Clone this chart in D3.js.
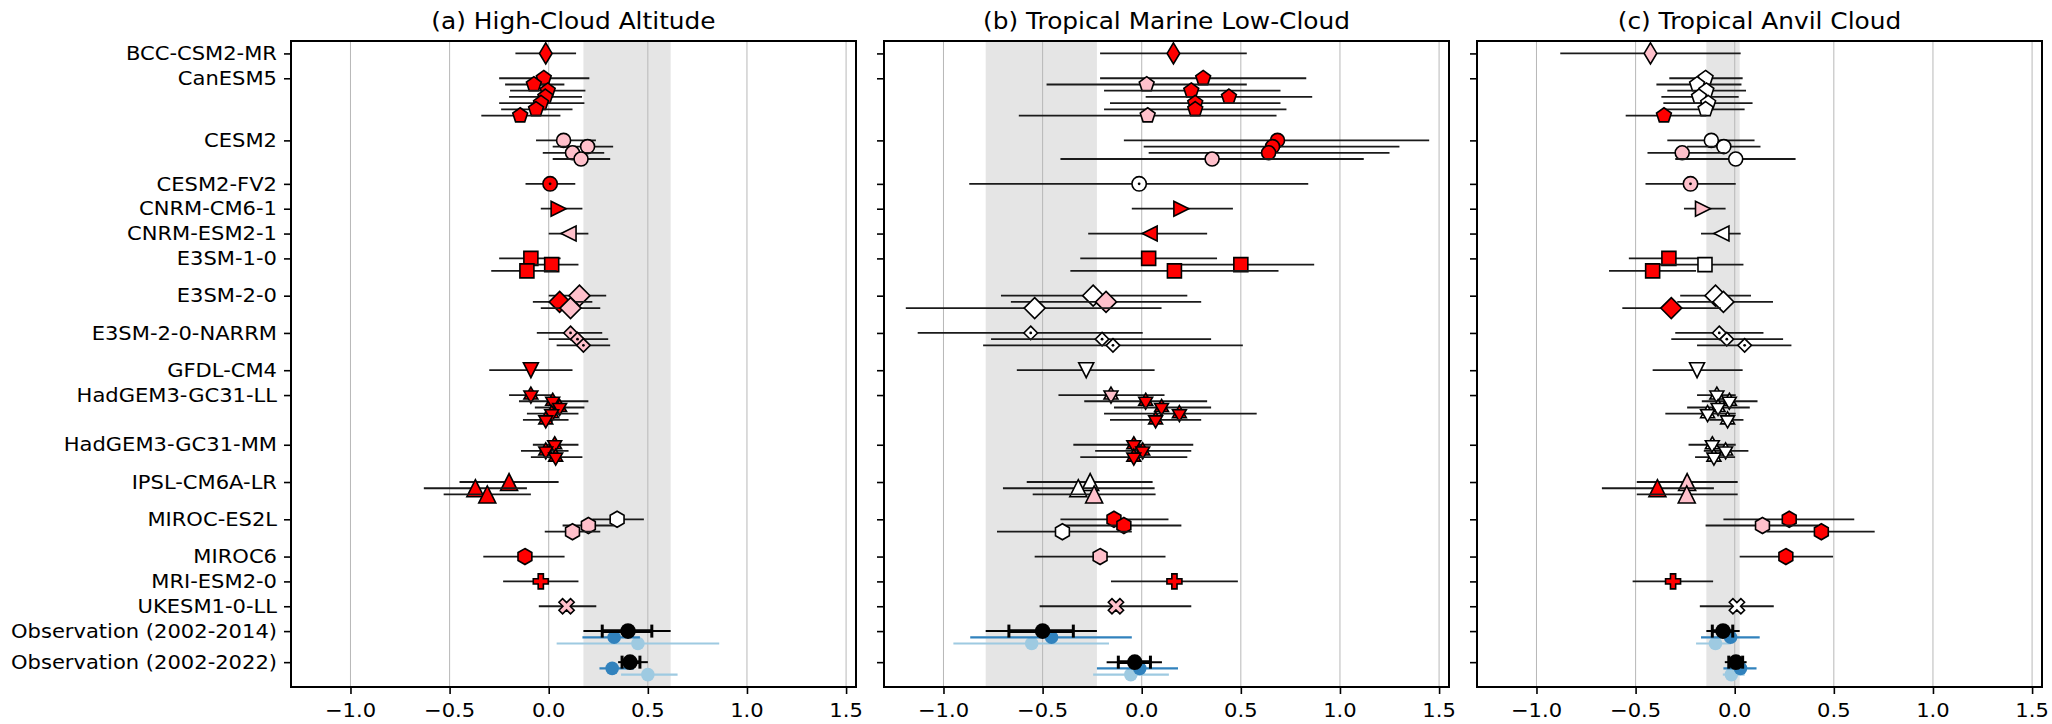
<!DOCTYPE html>
<html>
<head>
<meta charset="utf-8">
<script src="https://cdn.jsdelivr.net/npm/d3@7"></script>
<style>
  body { margin: 0; background: #ffffff; }
  svg { display: block; }
  text { font-family: "DejaVu Sans", sans-serif; fill: #000; }
</style>
</head>
<body>
<svg id="chart" width="2052" height="724"></svg>
<script>
// ---------------- data ----------------
const models = ["BCC-CSM2-MR", "CanESM5", "CESM2", "CESM2-FV2", "CNRM-CM6-1", "CNRM-ESM2-1",
  "E3SM-1-0", "E3SM-2-0", "E3SM-2-0-NARRM", "GFDL-CM4", "HadGEM3-GC31-LL", "HadGEM3-GC31-MM",
  "IPSL-CM6A-LR", "MIROC-ES2L", "MIROC6", "MRI-ESM2-0", "UKESM1-0-LL"];
const memberCounts = [1, 7, 4, 1, 1, 1, 3, 3, 3, 1, 5, 3, 3, 3, 1, 1, 1];
const modelMarkers = ["thinDiamond", "pentagon", "circle", "circleDot", "triRight", "triLeft",
  "square", "diamond", "diamondDot", "triDown", "hexagram", "hexagram", "triUp", "hexagon",
  "hexagon", "plus", "cross"];
const obsLabels = ["Observation (2002-2014)", "Observation (2002-2022)"];
const panelTitles = ["(a) High-Cloud Altitude", "(b) Tropical Marine Low-Cloud", "(c) Tropical Anvil Cloud"];
const xTicks = [-1.0, -0.5, 0.0, 0.5, 1.0, 1.5];

// (a) high-cloud altitude: one entry per ensemble member, in model order
const highMean = [-0.015,
  -0.025, -0.075, -0.005, -0.017, -0.039, -0.064, -0.144,
  0.075, 0.196, 0.12, 0.163,
  0.007, 0.05, 0.10,
  -0.09, 0.015, -0.11,
  0.155, 0.055, 0.11,
  0.11, 0.145, 0.175,
  -0.09,
  -0.09, 0.02, 0.055, 0.015, -0.015,
  0.03, -0.015, 0.035,
  -0.20, -0.37, -0.31,
  0.345, 0.20, 0.12,
  -0.12, -0.04, 0.09];
const highLo = [-0.168,
  -0.25, -0.22, -0.195, -0.20, -0.25, -0.24, -0.34,
  -0.064, 0.02, -0.03, 0.02,
  -0.117, -0.04, 0.0,
  -0.25, -0.10, -0.29,
  0.0, -0.08, -0.04,
  -0.06, 0.0, 0.04,
  -0.30,
  -0.20, -0.15, -0.07, -0.11, -0.13,
  -0.08, -0.14, -0.09,
  -0.45, -0.63, -0.53,
  0.22, 0.07, -0.02,
  -0.33, -0.23, -0.05];
const highHi = [0.138,
  0.205, 0.079, 0.185, 0.168, 0.18, 0.12, 0.059,
  0.238, 0.325, 0.28, 0.31,
  0.134, 0.17, 0.20,
  0.06, 0.15, 0.04,
  0.29, 0.22, 0.26,
  0.27, 0.30, 0.31,
  0.12,
  0.015, 0.20, 0.18, 0.15, 0.10,
  0.15, 0.10, 0.17,
  0.05, -0.11, -0.09,
  0.48, 0.33, 0.26,
  0.08, 0.15, 0.24];
const highFill = ["r",
  "r", "r", "r", "r", "r", "r", "r",
  "p", "p", "p", "p",
  "r", "r", "p",
  "r", "r", "r",
  "p", "r", "p",
  "p", "p", "p",
  "r",
  "r", "r", "r", "r", "r",
  "r", "r", "r",
  "r", "r", "r",
  "w", "p", "p",
  "r", "r", "p"];
// observations: rows = periods; columns = combined, dataset 1, dataset 2
const highObsMean = [[0.40, 0.33, 0.45], [0.41, 0.32, 0.50]];
const highObsLo = [[0.175, 0.17, 0.04], [0.35, 0.256, 0.365]];
const highObsHi = [[0.615, 0.46, 0.86], [0.50, 0.43, 0.65]];
const highObsInner = [[0.27, 0.52], [0.37, 0.46]];

// (b) tropical marine low-cloud
const lowMean = [0.16,
  0.31, 0.025, 0.25, 0.44, 0.27, 0.27, 0.03,
  0.685, 0.66, 0.64, 0.355,
  -0.013, 0.20, 0.04,
  0.035, 0.50, 0.165,
  -0.245, -0.18, -0.54,
  -0.56, -0.20, -0.145,
  -0.28,
  -0.155, 0.02, 0.10, 0.19, 0.07,
  -0.04, 0.005, -0.04,
  -0.26, -0.32, -0.24,
  -0.14, -0.09, -0.40,
  -0.21, 0.165, -0.13];
const lowLo = [-0.21,
  -0.21, -0.48, -0.19, 0.02, -0.16, -0.19, -0.62,
  -0.09, 0.01, 0.035, -0.41,
  -0.87, -0.05, -0.27,
  -0.31, 0.13, -0.36,
  -0.71, -0.66, -1.19,
  -1.13, -0.76, -0.80,
  -0.63,
  -0.42, -0.29, -0.14, -0.19, -0.16,
  -0.345, -0.235, -0.31,
  -0.58, -0.70, -0.55,
  -0.41, -0.40, -0.73,
  -0.54, -0.155, -0.515];
const lowHi = [0.53,
  0.83, 0.53, 0.70, 0.86, 0.70, 0.73, 0.68,
  1.45, 1.30, 1.25, 1.12,
  0.84, 0.46, 0.33,
  0.38, 0.87, 0.69,
  0.23, 0.30, 0.10,
  0.005, 0.35, 0.51,
  0.065,
  0.115, 0.33, 0.35, 0.58, 0.30,
  0.26, 0.25, 0.23,
  0.055, 0.065, 0.07,
  0.135, 0.20, -0.05,
  0.12, 0.485, 0.25];
const lowFill = ["r",
  "r", "p", "r", "r", "r", "r", "p",
  "r", "r", "r", "p",
  "w", "r", "r",
  "r", "r", "r",
  "w", "p", "w",
  "w", "w", "w",
  "w",
  "p", "r", "r", "r", "r",
  "r", "r", "r",
  "w", "w", "p",
  "r", "r", "w",
  "p", "r", "p"];
const lowObsMean = [[-0.50, -0.455, -0.555], [-0.035, -0.01, -0.055]];
const lowObsLo = [[-0.787, -0.865, -0.95], [-0.177, -0.226, -0.245]];
const lowObsHi = [[-0.226, -0.05, -0.165], [0.102, 0.183, 0.137]];
const lowObsInner = [[-0.67, -0.345], [-0.118, 0.044]];

// (c) tropical anvil cloud
const anvilMean = [-0.425,
  -0.147, -0.19, -0.143, -0.18, -0.134, -0.147, -0.357,
  -0.118, -0.055, -0.265, 0.005,
  -0.223, -0.16, -0.067,
  -0.332, -0.15, -0.414,
  -0.097, -0.057, -0.32,
  -0.078, -0.04, 0.05,
  -0.19,
  -0.09, -0.027, -0.084, -0.137, -0.036,
  -0.113, -0.046, -0.105,
  -0.24, -0.39, -0.242,
  0.275, 0.14, 0.437,
  0.258, -0.311, 0.011];
const anvilLo = [-0.88,
  -0.33, -0.395, -0.34, -0.37, -0.36, -0.35, -0.55,
  -0.34, -0.24, -0.44, -0.30,
  -0.45, -0.256, -0.17,
  -0.534, -0.40, -0.634,
  -0.275, -0.29, -0.567,
  -0.30, -0.32, -0.19,
  -0.414,
  -0.19, -0.166, -0.24, -0.35, -0.128,
  -0.233, -0.156, -0.20,
  -0.494, -0.67, -0.494,
  -0.057, -0.147, 0.16,
  0.025, -0.515, -0.176];
const anvilHi = [0.03,
  0.04, 0.034, 0.057, 0.02, 0.09, 0.05, -0.143,
  0.10, 0.13, -0.05, 0.307,
  0.005, -0.046, 0.03,
  -0.128, 0.044, -0.195,
  0.082, 0.193, -0.07,
  0.145, 0.244, 0.286,
  0.04,
  0.005, 0.115, 0.076, 0.005, 0.044,
  0.005, 0.069, 0.002,
  0.015, -0.105, 0.015,
  0.603, 0.42, 0.706,
  0.496, -0.109, 0.197];
const anvilFill = ["p",
  "w", "w", "w", "w", "w", "w", "r",
  "w", "w", "p", "w",
  "p", "p", "w",
  "r", "w", "r",
  "w", "w", "r",
  "w", "w", "w",
  "w",
  "w", "w", "w", "w", "w",
  "w", "w", "w",
  "p", "r", "p",
  "r", "p", "r",
  "r", "r", "w"];
const anvilObsMean = [[-0.059, -0.021, -0.097], [0.006, 0.029, -0.017]];
const anvilObsLo = [[-0.143, -0.17, -0.195], [-0.05, -0.057, -0.06]];
const anvilObsHi = [[0.025, 0.126, -0.02], [0.06, 0.11, 0.05]];
const anvilObsInner = [[-0.113, -0.01], [-0.03, 0.04]];

// ---------------- layout ----------------
const W = 2052, H = 724;
const panelLeft = [291, 884, 1477];
const panelWidth = 565;
const plotTop = 41, plotBottom = 687;
const memberStep = 0.25;      // vertical offset between ensemble members
const obsPeriodStep = 1.25;   // spacing between the two observation rows
const textStretch = 1.08;
const fillColor = { r: "#ff0000", p: "#ffc0cb", w: "#ffffff" };
const obsColor = ["#000000", "#3182bd", "#9ecae1"];

const svg = d3.select("#chart");
svg.append("rect").attr("width", W).attr("height", H).attr("fill", "#fff");

// vertical positions of each model block and of each member
const modelPos = [];
const memberPos = [];
let pos = 0;
memberCounts.forEach((n, i) => {
  modelPos.push(pos);
  for (let k = 0; k < n; k++) memberPos.push({ y: pos + k * memberStep, model: i });
  pos += 1 + (n - 1) * memberStep;
});
const obsPos = [pos, pos + obsPeriodStep];
const tickPos = modelPos.concat(obsPos);
const tickNames = models.concat(obsLabels);

const y = d3.scaleLinear().domain([-0.5, 25.5]).range([plotTop, plotBottom]);

function addText(sel, x, yy, str, size, anchor, baseline) {
  return sel.append("text")
    .attr("transform", `translate(${x},${yy}) scale(${textStretch},1)`)
    .attr("font-size", size)
    .attr("text-anchor", anchor)
    .attr("dominant-baseline", baseline || "auto")
    .text(str);
}

// ---------------- marker shapes ----------------
function poly(n, r, rotDeg) {
  const pts = d3.range(n).map(k => {
    const a = (rotDeg + 360 * k / n) * Math.PI / 180;
    return [r * Math.cos(a), r * Math.sin(a)];
  });
  return "M" + pts.map(p => p[0].toFixed(2) + "," + p[1].toFixed(2)).join("L") + "Z";
}
const plusPath = (h, w) => `M${-w},${-h}H${w}V${-w}H${h}V${w}H${w}V${h}H${-w}V${w}H${-h}V${-w}H${-w}Z`;
const markerDefs = {
  thinDiamond: { paths: ["M0,-10.5L6.3,0L0,10.5L-6.3,0Z"] },
  pentagon: { paths: [poly(5, 7.8, -90)] },
  circle: { circle: 7 },
  circleDot: { circle: 7.2, dot: true },
  triRight: { paths: ["M7.5,0L-7.5,-7.5L-7.5,7.5Z"] },
  triLeft: { paths: ["M-7.5,0L7.5,-7.5L7.5,7.5Z"] },
  square: { paths: ["M-7,-7H7V7H-7Z"] },
  diamond: { paths: ["M0,-10.5L10.5,0L0,10.5L-10.5,0Z"] },
  diamondDot: { paths: ["M0,-6.8L6.8,0L0,6.8L-6.8,0Z"], dot: true },
  triDown: { paths: ["M0,7.5L-7.5,-7.5L7.5,-7.5Z"] },
  hexagram: { paths: [poly(3, 8, -90), poly(3, 8, 90)] },
  triUp: { paths: ["M0,-8.5L8.5,8.5L-8.5,8.5Z"] },
  hexagon: { paths: [poly(6, 8, -90)] },
  plus: { paths: [plusPath(7.5, 2.6)] },
  cross: { paths: [plusPath(8.2, 2.6)], rotate: 45 }
};

function drawMarker(g, type, cx, cy, fill) {
  const def = markerDefs[type];
  const m = g.append("g").attr("transform", `translate(${cx},${cy})${def.rotate ? ` rotate(${def.rotate})` : ""}`);
  if (def.circle) {
    m.append("circle").attr("r", def.circle).attr("fill", fill).attr("stroke", "#000").attr("stroke-width", 1.6);
  }
  (def.paths || []).forEach(d => {
    m.append("path").attr("d", d).attr("fill", fill).attr("stroke", "#000")
      .attr("stroke-width", 1.6).attr("stroke-linejoin", "miter");
  });
  if (def.dot) m.append("circle").attr("r", 1.4).attr("fill", "#000");
}

// ---------------- panels ----------------
const panels = [
  { mean: highMean, lo: highLo, hi: highHi, fill: highFill,
    oMean: highObsMean, oLo: highObsLo, oHi: highObsHi, oInner: highObsInner },
  { mean: lowMean, lo: lowLo, hi: lowHi, fill: lowFill,
    oMean: lowObsMean, oLo: lowObsLo, oHi: lowObsHi, oInner: lowObsInner },
  { mean: anvilMean, lo: anvilLo, hi: anvilHi, fill: anvilFill,
    oMean: anvilObsMean, oLo: anvilObsLo, oHi: anvilObsHi, oInner: anvilObsInner }
];

panels.forEach((p, pi) => {
  const x0 = panelLeft[pi];
  const x = d3.scaleLinear().domain([-1.3, 1.55]).range([x0, x0 + panelWidth]);
  const g = svg.append("g");

  // clip region for the plot area
  const clipId = "clip" + pi;
  svg.append("clipPath").attr("id", clipId).append("rect")
    .attr("x", x0).attr("y", plotTop).attr("width", panelWidth).attr("height", plotBottom - plotTop);
  const plot = g.append("g").attr("clip-path", `url(#${clipId})`);

  // observed range band (2002-2014 combined range)
  plot.append("rect")
    .attr("x", x(p.oLo[0][0])).attr("width", x(p.oHi[0][0]) - x(p.oLo[0][0]))
    .attr("y", plotTop).attr("height", plotBottom - plotTop)
    .attr("fill", "#e5e5e5");

  // vertical grid
  plot.selectAll("line.grid").data(xTicks).enter().append("line")
    .attr("x1", d => x(d)).attr("x2", d => x(d))
    .attr("y1", plotTop).attr("y2", plotBottom)
    .attr("stroke", "#b8b8b8").attr("stroke-width", 1);

  // model members: error bar then marker
  memberPos.forEach((mp, k) => {
    const yy = y(mp.y);
    plot.append("line")
      .attr("x1", x(p.lo[k])).attr("x2", x(p.hi[k]))
      .attr("y1", yy).attr("y2", yy)
      .attr("stroke", "#1a1a1a").attr("stroke-width", 1.8);
    drawMarker(plot, modelMarkers[mp.model], x(p.mean[k]), yy, fillColor[p.fill[k]]);
  });

  // observations
  obsPos.forEach((op, r) => {
    [2, 1].forEach(c => {
      const yy = y(op + c * memberStep);
      plot.append("line")
        .attr("x1", x(p.oLo[r][c])).attr("x2", x(p.oHi[r][c]))
        .attr("y1", yy).attr("y2", yy)
        .attr("stroke", obsColor[c]).attr("stroke-width", 2.2);
      plot.append("circle").attr("cx", x(p.oMean[r][c])).attr("cy", yy).attr("r", 6.8)
        .attr("fill", obsColor[c]);
    });
    const yy = y(op);
    plot.append("line")
      .attr("x1", x(p.oLo[r][0])).attr("x2", x(p.oHi[r][0]))
      .attr("y1", yy).attr("y2", yy)
      .attr("stroke", "#000").attr("stroke-width", 2);
    plot.append("line")
      .attr("x1", x(p.oInner[r][0])).attr("x2", x(p.oInner[r][1]))
      .attr("y1", yy).attr("y2", yy)
      .attr("stroke", "#000").attr("stroke-width", 3.6);
    p.oInner[r].forEach(v => {
      plot.append("line")
        .attr("x1", x(v)).attr("x2", x(v))
        .attr("y1", yy - 6.5).attr("y2", yy + 6.5)
        .attr("stroke", "#000").attr("stroke-width", 3);
    });
    plot.append("circle").attr("cx", x(p.oMean[r][0])).attr("cy", yy).attr("r", 7.8).attr("fill", "#000");
  });

  // frame
  g.append("rect")
    .attr("x", x0).attr("y", plotTop).attr("width", panelWidth).attr("height", plotBottom - plotTop)
    .attr("fill", "none").attr("stroke", "#000").attr("stroke-width", 2);

  // x axis ticks and labels
  const xAxis = d3.axisBottom(x).tickValues(xTicks).tickSize(7).tickFormat(d3.format(".1f"));
  const ax = g.append("g").attr("transform", `translate(0,${plotBottom})`).call(xAxis);
  ax.select(".domain").remove();
  ax.selectAll(".tick line").attr("stroke", "#000").attr("stroke-width", 1.6);
  ax.selectAll(".tick text").remove();
  xTicks.forEach(t => {
    addText(g, x(t), 717, d3.format(".1f")(t).replace("-", "\u2212"), 19.5, "middle");
  });

  // y ticks (labels only on the first panel)
  const yAxis = d3.axisLeft(y).tickValues(tickPos).tickSize(7).tickFormat("");
  const ay = g.append("g").attr("transform", `translate(${x0},0)`).call(yAxis);
  ay.select(".domain").remove();
  ay.selectAll(".tick line").attr("stroke", "#000").attr("stroke-width", 1.6);
  if (pi === 0) {
    tickPos.forEach((t, i) => {
      addText(g, x0 - 14, y(t), tickNames[i], 19.5, "end", "central");
    });
  }

  // title
  addText(g, x0 + panelWidth / 2, 28.5, panelTitles[pi], 23, "middle");
});
</script>
</body>
</html>
